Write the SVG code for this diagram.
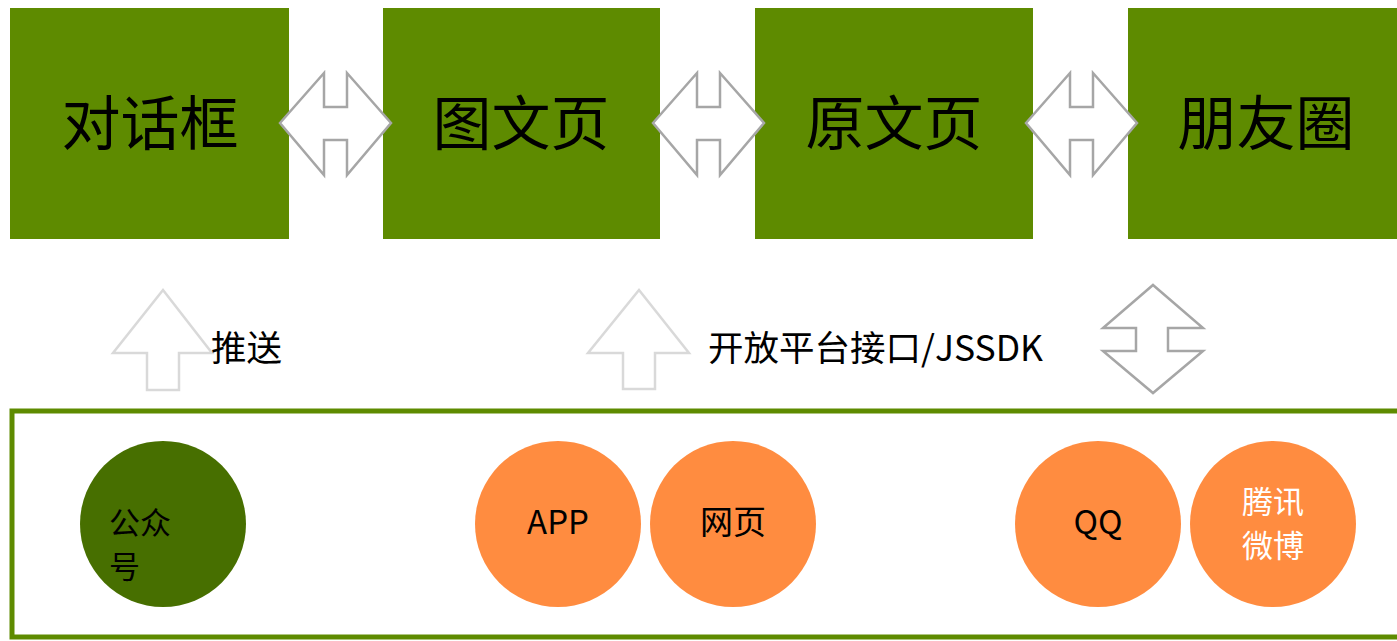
<svg xmlns="http://www.w3.org/2000/svg" width="1397" height="641" viewBox="0 0 1397 641">
<style>
.box{fill:#5e8b00}
.bt{font-family:"Noto Sans CJK SC","Noto Sans",sans-serif;font-size:59px;fill:#000;text-anchor:middle;dominant-baseline:central}
.lbl{font-family:"Noto Sans CJK SC","Noto Sans",sans-serif;font-size:35.5px;fill:#000;dominant-baseline:central}
.ct{font-family:"Noto Sans CJK SC","Noto Sans",sans-serif;font-size:33px;text-anchor:middle}
.ct2{font-family:"Noto Sans CJK SC","Noto Sans",sans-serif;font-size:31px;text-anchor:middle}
.dbl{fill:#fff;stroke:#a6a6a6;stroke-width:2.5;stroke-linejoin:miter}
.up{fill:#fff;stroke:#d9d9d9;stroke-width:2.5}
.org{fill:#ff8c40}
</style>
<rect x="0" y="0" width="1397" height="641" fill="#fff"/>
<g id="n1"><rect class="box" x="10" y="8" width="279" height="231"/><text class="bt" x="150" y="119">对话框</text></g>
<g id="n2"><rect class="box" x="383" y="8" width="277" height="231"/><text class="bt" x="521" y="119">图文页</text></g>
<g id="n3"><rect class="box" x="755" y="8" width="278" height="231"/><text class="bt" x="894" y="119">原文页</text></g>
<g id="n4"><rect class="box" x="1128" y="8" width="269" height="231"/><text class="bt" x="1266" y="119">朋友圈</text></g>
<g id="container"><rect x="12" y="411" width="1400" height="226" fill="none" stroke="#5e8b00" stroke-width="5"/></g>
<g id="c1"><circle cx="163" cy="524" r="83" fill="#476f00"/><text class="ct2" style="text-anchor:start"><tspan x="109" y="534">公众</tspan><tspan x="109" y="578">号</tspan></text></g>
<g id="c2"><circle class="org" cx="558" cy="524" r="83"/><text class="ct" x="558" y="534">APP</text></g>
<g id="c3"><circle class="org" cx="733" cy="524" r="83"/><text class="ct" x="733" y="534">网页</text></g>
<g id="c4"><circle class="org" cx="1098" cy="524" r="83"/><text class="ct" x="1098" y="534">QQ</text></g>
<g id="c5"><circle class="org" cx="1273" cy="524" r="83"/><text class="ct2" fill="#fff"><tspan x="1273" y="513">腾讯</tspan><tspan x="1273" y="557">微博</tspan></text></g>
<g id="connectors">
<path class="dbl" d="M280,123 L324,73 L324,107 L347,107 L347,73 L391,123 L347,175 L347,140 L324,140 L324,175 Z"/>
<path class="dbl" transform="translate(373,0)" d="M280,123 L324,73 L324,107 L347,107 L347,73 L391,123 L347,175 L347,140 L324,140 L324,175 Z"/>
<path class="dbl" transform="translate(746,0)" d="M280,123 L324,73 L324,107 L347,107 L347,73 L391,123 L347,175 L347,140 L324,140 L324,175 Z"/>
<path class="up" d="M163,290 L212,353 L179,353 L179,390 L147,390 L147,353 L113,353 Z"/>
<path class="up" d="M639,290 L689,353 L655,353 L655,389 L623,389 L623,353 L588,353 Z"/>
<path class="dbl" d="M1153,285 L1203,328 L1168,328 L1168,351 L1203,351 L1153,393 L1103,351 L1136,351 L1136,328 L1103,328 Z"/>
<text class="lbl" x="211" y="345">推送</text>
<text class="lbl" x="708" y="345">开放平台接口/JSSDK</text>
</g>
</svg>
